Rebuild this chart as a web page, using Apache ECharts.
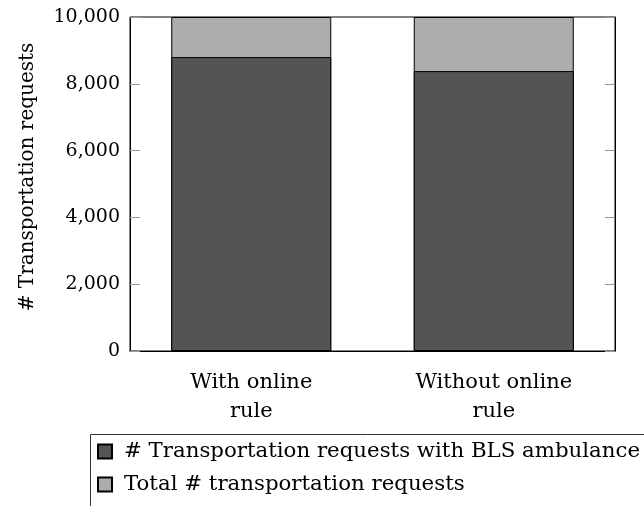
<!DOCTYPE html>
<html>
<head>
<meta charset="utf-8">
<script src="https://cdn.jsdelivr.net/npm/echarts@6/dist/echarts.min.js"></script>
<style>
  html, body { margin: 0; padding: 0; background: #fff; }
  #chart { width: 644px; height: 506px; }
</style>
</head>
<body>
<div id="chart"></div>
<script>
// Transportation requests with and without the online rule
const categories = ['With online\nrule', 'Without online\nrule'];
const blsRequests = [8800, 8380];
const totalRequests = [10000, 10000];
const yTicks = [0, 2000, 4000, 6000, 8000, 10000];

const FONT = '"DejaVu Serif", "Liberation Serif", serif';
const chart = echarts.init(document.getElementById('chart'), null, { renderer: 'canvas' });

const tickStyle = { show: true, inside: true, length: 10, lineStyle: { color: '#999', width: 1 } };

chart.setOption({
  animation: false,
  textStyle: { fontFamily: FONT, color: '#000' },
  grid: { left: 130, right: 29, top: 17, bottom: 155, show: true, borderColor: '#000', borderWidth: 1 },
  // legend frame, running past the right and bottom edges of the canvas
  graphic: [{
    type: 'rect',
    left: 88, top: 432,
    shape: { width: 700, height: 200 },
    style: { fill: 'none', stroke: '#333', lineWidth: 1 },
    z: 0
  }],
  legend: {
    type: 'plain',
    orient: 'vertical',
    left: 97,
    top: 441,
    itemWidth: 14,
    itemHeight: 14,
    itemGap: 12,
    padding: 0,
    icon: 'rect',
    textStyle: { fontFamily: FONT, fontSize: 21.3, color: '#000', padding: [0, 0, 0, 7] },
    data: ['# Transportation requests with BLS ambulance', 'Total # transportation requests']
  },
  xAxis: {
    type: 'category',
    data: categories,
    axisLine: { lineStyle: { color: '#000' } },
    axisTick: { show: false },
    axisLabel: { fontFamily: FONT, fontSize: 21, color: '#000', lineHeight: 29, margin: 17 }
  },
  yAxis: [
    {
      type: 'value', min: 0, max: 10000, interval: 2000,
      name: '# Transportation requests',
      nameLocation: 'middle',
      nameGap: 92,
      nameTextStyle: { fontFamily: FONT, fontSize: 20, color: '#000', padding: [0, 0, 0, 14] },
      axisLine: { show: true, lineStyle: { color: '#000' } },
      axisTick: tickStyle,
      splitLine: { show: false },
      axisLabel: {
        fontFamily: FONT, fontSize: 19, color: '#000', margin: 10,
        formatter: v => yTicks.includes(v) ? v.toLocaleString('en-US') : ''
      }
    },
    {
      type: 'value', min: 0, max: 10000, interval: 2000, position: 'right',
      axisLine: { show: true, lineStyle: { color: '#000' } },
      axisTick: tickStyle,
      splitLine: { show: false },
      axisLabel: { show: false }
    }
  ],
  series: [
    {
      name: 'Total # transportation requests',
      type: 'bar',
      data: totalRequests,
      barWidth: 160,
      barGap: '-100%',
      itemStyle: { color: '#adadad', borderColor: '#000', borderWidth: 1 },
      z: 2
    },
    {
      name: '# Transportation requests with BLS ambulance',
      type: 'bar',
      data: blsRequests,
      barWidth: 160,
      itemStyle: { color: '#545454', borderColor: '#000', borderWidth: 1 },
      z: 3
    }
  ]
});
</script>
</body>
</html>
